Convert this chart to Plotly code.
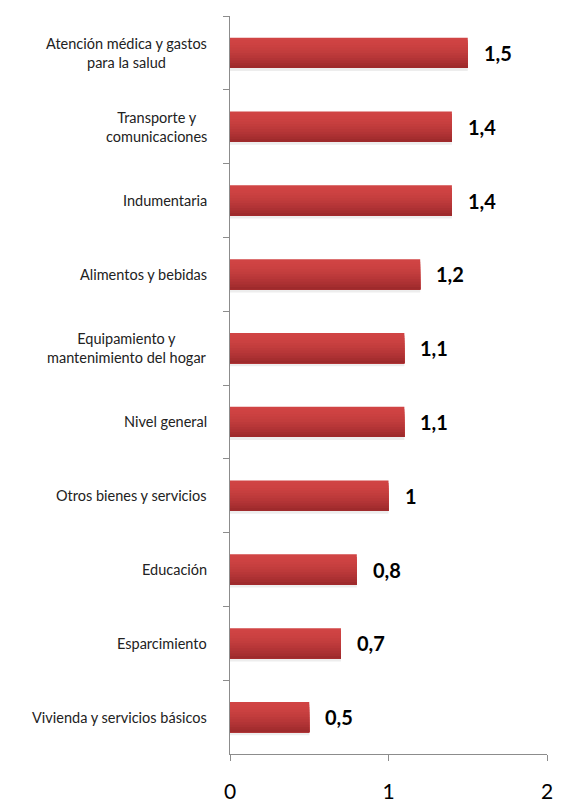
import plotly.graph_objects as go

categories = [
    "Atención médica y gastos<br>para la salud",
    "Transporte y<br>comunicaciones",
    "Indumentaria",
    "Alimentos y bebidas",
    "Equipamiento y<br>mantenimiento del hogar",
    "Nivel general",
    "Otros bienes y servicios",
    "Educación",
    "Esparcimiento",
    "Vivienda y servicios básicos",
]
values = [1.5, 1.4, 1.4, 1.2, 1.1, 1.1, 1.0, 0.8, 0.7, 0.5]
value_labels = ["1,5", "1,4", "1,4", "1,2", "1,1", "1,1", "1", "0,8", "0,7", "0,5"]
x_ticks = [0, 1, 2]

FONT = "Lato, Carlito, Calibri, sans-serif"
fig = go.Figure()

BAR_W = 0.41
# soft shadow
fig.add_trace(go.Bar(
    y=categories, x=values, orientation="h",
    marker=dict(color="rgba(0,0,0,0.07)", line=dict(width=0)),
    width=BAR_W + 0.03, offset=-BAR_W / 2 + 0.01, hoverinfo="skip", showlegend=False,
))
# vertical gradient: overlapping strips, each extending to the bar bottom
top = (208, 68, 68)
bot = (158, 42, 44)
N = 12
for i in range(N):
    t = i / (N - 1)
    col = tuple(round(top[k] + (bot[k] - top[k]) * (t ** 1.6)) for k in range(3))
    fig.add_trace(go.Bar(
        y=categories, x=values, orientation="h",
        marker=dict(color=f"rgb{col}", line=dict(width=0)),
        width=BAR_W - i * BAR_W / N, offset=-BAR_W / 2 + i * BAR_W / N,
        hoverinfo="skip" if i else None, showlegend=False,
    ))

annotations = []
for c, v, t in zip(categories, values, value_labels):
    annotations.append(dict(
        x=v, y=c, xref="x", yref="y", text=f"<b>{t}</b>", showarrow=False,
        xanchor="left", xshift=14, font=dict(size=20, color="black", family=FONT),
    ))
    annotations.append(dict(
        x=0, y=c, xref="paper", yref="y", text=c, showarrow=False,
        xanchor="right", align="center", xshift=-21,
        font=dict(size=14.5, color="#222", family=FONT),
    ))

fig.update_layout(
    width=553, height=803,
    margin=dict(l=222, r=11, t=8, b=41),
    plot_bgcolor="white", paper_bgcolor="white",
    barmode="overlay",
    annotations=annotations,
    xaxis=dict(
        range=[0, 2], tickvals=x_ticks, ticktext=[str(v) for v in x_ticks],
        showgrid=False, zeroline=False, showline=True, linecolor="#8c8c8c",
        linewidth=1.3, ticks="outside", ticklen=6, tickcolor="#8c8c8c",
        tickfont=dict(size=21, color="black", family=FONT), fixedrange=True,
        ticklabelstandoff=13,
    ),
    yaxis=dict(
        autorange="reversed", showticklabels=False, showgrid=False,
        showline=True, linecolor="#8c8c8c", linewidth=1.3,
        ticks="outside", tickson="boundaries", ticklen=6, tickcolor="#8c8c8c",
    ),
)

fig.write_html("out.html")
